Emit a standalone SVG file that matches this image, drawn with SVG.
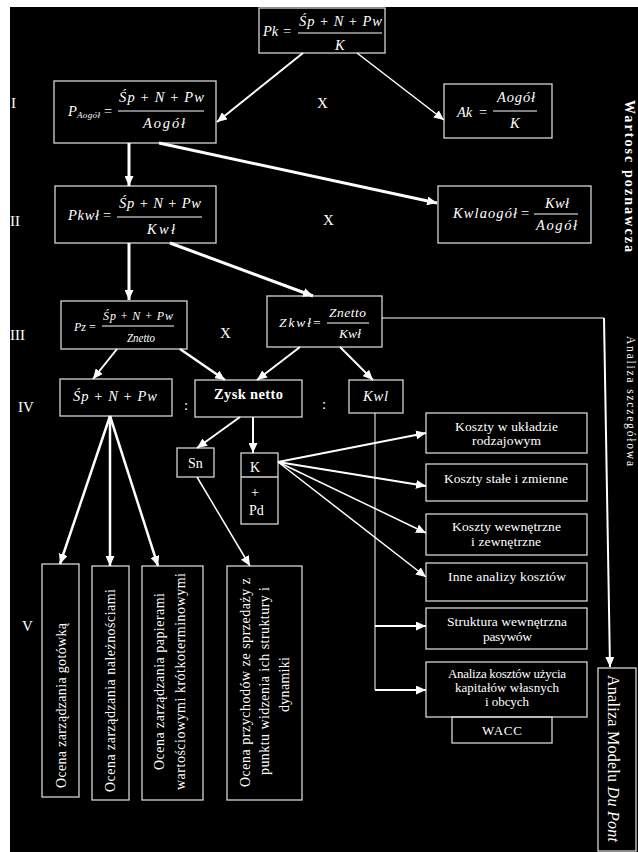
<svg xmlns="http://www.w3.org/2000/svg" width="638" height="852" viewBox="0 0 638 852">
<style>
.bx{fill:none;stroke:#d4d4d4;stroke-width:1.3}
.t{font-family:"Liberation Serif","Times New Roman",serif;fill:#fff}
.i{font-style:italic}
.b{font-weight:bold}
.fl{stroke:#fff;stroke-width:1}
.c{stroke:#fff;fill:none}
</style>
<defs>
<marker id="ah" markerUnits="userSpaceOnUse" markerWidth="10" markerHeight="9" refX="10" refY="4.5" orient="auto">
<path d="M0,0 L10,4.5 L0,9 z" fill="#fff"/>
</marker>
</defs>
<rect x="0" y="0" width="638" height="852" fill="#fff"/>
<rect x="10" y="7" width="628" height="845" fill="#000"/>

<g id="levels" class="t" font-size="15">
<text x="11" y="108">I</text>
<text x="10" y="226">II</text>
<text x="10" y="340">III</text>
<text x="18" y="412">IV</text>
<text x="22" y="631">V</text>
<text x="317" y="108">X</text>
<text x="323" y="225">X</text>
<text x="220" y="338">X</text>
<text x="184" y="410">:</text>
<text x="322" y="409">:</text>
</g>

<g id="side-labels" class="t">
<text class="b" font-size="14" transform="translate(625,100) rotate(90)" textLength="152" lengthAdjust="spacing">Wartosc poznawcza</text>
<text font-size="11.5" transform="translate(627,336) rotate(90)" textLength="130" lengthAdjust="spacing">Analiza szczegółowa</text>
</g>

<g id="n-pk">
<rect class="bx" x="259" y="8" width="126" height="45"/>
<text class="t i" x="263" y="36" font-size="14.5">Pk</text>
<text class="t" x="283" y="36" font-size="14.5">=</text>
<text class="t" x="299" y="26" font-size="14.5" textLength="83" lengthAdjust="spacing"><tspan class="i">Śp</tspan> + <tspan class="i">N</tspan> + <tspan class="i">Pw</tspan></text>
<line class="fl" x1="298" y1="33" x2="382" y2="33"/>
<text class="t i" x="335" y="50" font-size="14.5">K</text>
</g>

<g id="n-paogol">
<rect class="bx" x="54" y="81" width="162" height="62"/>
<text class="t i" x="68" y="116" font-size="14.5">P</text>
<text class="t i" x="77" y="118" font-size="9" textLength="23" lengthAdjust="spacing">Aogół</text>
<text class="t" x="104" y="116" font-size="14.5">=</text>
<text class="t" x="119" y="102" font-size="14.5" textLength="85" lengthAdjust="spacing"><tspan class="i">Śp</tspan> + <tspan class="i">N</tspan> + <tspan class="i">Pw</tspan></text>
<line class="fl" x1="118" y1="111" x2="204" y2="111"/>
<text class="t i" x="143" y="128" font-size="14.5" textLength="42" lengthAdjust="spacing">Aogół</text>
</g>

<g id="n-ak">
<rect class="bx" x="444" y="84" width="108" height="54"/>
<text class="t i" x="457" y="117" font-size="14.5">Ak</text>
<text class="t" x="479" y="117" font-size="14.5">=</text>
<text class="t i" x="497" y="102" font-size="14.5" textLength="38" lengthAdjust="spacing">Aogół</text>
<line class="fl" x1="493" y1="111" x2="537" y2="111"/>
<text class="t i" x="510" y="128" font-size="14.5">K</text>
</g>

<g id="n-pkwl">
<rect class="bx" x="55" y="186" width="161" height="57"/>
<text class="t i" x="68" y="220" font-size="14.5" textLength="31" lengthAdjust="spacing">Pkwł</text>
<text class="t" x="103" y="220" font-size="14.5">=</text>
<text class="t" x="119" y="208" font-size="14.5" textLength="82" lengthAdjust="spacing"><tspan class="i">Śp</tspan> + <tspan class="i">N</tspan> + <tspan class="i">Pw</tspan></text>
<line class="fl" x1="117" y1="217" x2="202" y2="217"/>
<text class="t i" x="147" y="234" font-size="14.5" textLength="28" lengthAdjust="spacing">Kwł</text>
</g>

<g id="n-kwlaogol">
<rect class="bx" x="438" y="186" width="153" height="57"/>
<text class="t i" x="453" y="218" font-size="14.5" textLength="64" lengthAdjust="spacing">Kwlaogół</text>
<text class="t" x="521" y="218" font-size="14.5">=</text>
<text class="t i" x="545" y="208" font-size="14.5" textLength="24" lengthAdjust="spacing">Kwł</text>
<line class="fl" x1="534" y1="214" x2="578" y2="214"/>
<text class="t i" x="536" y="230" font-size="14.5" textLength="41" lengthAdjust="spacing">Aogół</text>
</g>

<g id="n-pz">
<rect class="bx" x="61" y="301" width="126" height="48"/>
<text class="t i" x="74" y="331" font-size="12">Pz</text>
<text class="t" x="89" y="331" font-size="12">=</text>
<text class="t" x="103" y="320" font-size="12" textLength="70" lengthAdjust="spacing"><tspan class="i">Śp</tspan> + <tspan class="i">N</tspan> + <tspan class="i">Pw</tspan></text>
<line class="fl" x1="102" y1="326" x2="174" y2="326"/>
<text class="t i" x="127" y="342" font-size="12" textLength="28" lengthAdjust="spacingAndGlyphs">Znetto</text>
</g>

<g id="n-zkwl">
<rect class="bx" x="267" y="296" width="115" height="51"/>
<text class="t i" x="279" y="327" font-size="13.5" textLength="32" lengthAdjust="spacing">Zkwł</text>
<text class="t" x="313" y="327" font-size="13.5">=</text>
<text class="t i" x="329" y="317" font-size="13.5" textLength="37" lengthAdjust="spacing">Znetto</text>
<line class="fl" x1="327" y1="323" x2="369" y2="323"/>
<text class="t i" x="339" y="338" font-size="13.5" textLength="22" lengthAdjust="spacing">Kwł</text>
</g>

<g id="n-sp">
<rect class="bx" x="60" y="379" width="112" height="37"/>
<text class="t" x="73" y="401" font-size="14.5" textLength="84" lengthAdjust="spacing"><tspan class="i">Śp</tspan> + <tspan class="i">N</tspan> + <tspan class="i">Pw</tspan></text>
</g>

<g id="n-zysk">
<rect class="bx" x="195" y="380" width="107" height="37"/>
<text class="t b" x="214" y="399" font-size="14.5" textLength="69" lengthAdjust="spacing">Zysk netto</text>
</g>

<g id="n-kwl">
<rect class="bx" x="349" y="380" width="54" height="33"/>
<text class="t i" x="363" y="401" font-size="14.5" textLength="25" lengthAdjust="spacing">Kwl</text>
</g>

<g id="n-sn">
<rect class="bx" x="177" y="448" width="37" height="29"/>
<text class="t" x="188" y="468" font-size="14">Sn</text>
</g>

<g id="n-kpd">
<rect class="bx" x="241" y="453" width="37" height="71"/>
<line class="bx" x1="241" y1="477" x2="278" y2="477"/>
<text class="t" x="250" y="472" font-size="14">K</text>
<text class="t" x="251" y="497" font-size="14">+</text>
<text class="t" x="249" y="515" font-size="14">Pd</text>
</g>

<g id="n-koszty1">
<rect class="bx" x="426" y="413" width="161" height="40"/>
<text class="t" x="455" y="431" font-size="13.5" textLength="103" lengthAdjust="spacing">Koszty w układzie</text>
<text class="t" x="472" y="445" font-size="13.5" textLength="69" lengthAdjust="spacing">rodzajowym</text>
</g>
<g id="n-koszty2">
<rect class="bx" x="426" y="464" width="161" height="37"/>
<text class="t" x="444" y="483" font-size="13.5" textLength="124" lengthAdjust="spacing">Koszty stałe i zmienne</text>
</g>
<g id="n-koszty3">
<rect class="bx" x="426" y="514" width="161" height="41"/>
<text class="t" x="452" y="531" font-size="13.5" textLength="109" lengthAdjust="spacing">Koszty wewnętrzne</text>
<text class="t" x="471" y="546" font-size="13.5" textLength="70" lengthAdjust="spacing">i zewnętrzne</text>
</g>
<g id="n-koszty4">
<rect class="bx" x="426" y="563" width="161" height="38"/>
<text class="t" x="448" y="581" font-size="13.5" textLength="118" lengthAdjust="spacing">Inne analizy kosztów</text>
</g>
<g id="n-struktura">
<rect class="bx" x="426" y="608" width="161" height="41"/>
<text class="t" x="447" y="626" font-size="13.5" textLength="120" lengthAdjust="spacing">Struktura wewnętrzna</text>
<text class="t" x="483" y="641" font-size="13.5" textLength="49" lengthAdjust="spacing">pasywów</text>
</g>
<g id="n-wacc-analiza">
<rect class="bx" x="426" y="662" width="161" height="55"/>
<text class="t" x="448" y="678" font-size="13" textLength="118" lengthAdjust="spacing">Analiza kosztów użycia</text>
<text class="t" x="455" y="692" font-size="13" textLength="104" lengthAdjust="spacing">kapitałów własnych</text>
<text class="t" x="485" y="706" font-size="13" textLength="44" lengthAdjust="spacing">i obcych</text>
</g>
<g id="n-wacc">
<rect class="bx" x="452" y="717" width="100" height="26"/>
<text class="t" x="482" y="735" font-size="13" textLength="40" lengthAdjust="spacing">WACC</text>
</g>

<g id="n-dupont">
<rect class="bx" x="598" y="668" width="38" height="183"/>
<text class="t" font-size="16" transform="translate(608,675) rotate(90)" textLength="167" lengthAdjust="spacing">Analiza Modelu <tspan class="i">Du Pont</tspan></text>
</g>

<g id="n-v1">
<rect class="bx" x="42" y="564" width="37" height="233"/>
<text class="t" font-size="14" transform="translate(66,788) rotate(-90)" textLength="165" lengthAdjust="spacing">Ocena zarządzania gotówką</text>
</g>
<g id="n-v2">
<rect class="bx" x="92" y="566" width="37" height="234"/>
<text class="t" font-size="14" transform="translate(115,792) rotate(-90)" textLength="203" lengthAdjust="spacing">Ocena zarządzania należnościami</text>
</g>
<g id="n-v3">
<rect class="bx" x="142" y="566" width="61" height="234"/>
<text class="t" font-size="14" transform="translate(164,770) rotate(-90)" textLength="177" lengthAdjust="spacing">Ocena zarządzania papierami</text>
<text class="t" font-size="14" transform="translate(185,790) rotate(-90)" textLength="217" lengthAdjust="spacing">wartościowymi krótkoterminowymi</text>
</g>
<g id="n-v4">
<rect class="bx" x="227" y="566" width="75" height="234"/>
<text class="t" font-size="14" transform="translate(250,787) rotate(-90)" textLength="209" lengthAdjust="spacing">Ocena przychodów ze sprzedaży z</text>
<text class="t" font-size="14" transform="translate(269,775) rotate(-90)" textLength="188" lengthAdjust="spacing">punktu widzenia ich struktury i</text>
<text class="t" font-size="14" transform="translate(289,712) rotate(-90)" textLength="55" lengthAdjust="spacing">dynamiki</text>
</g>

<g id="connectors" class="c">
<line x1="303" y1="53" x2="217" y2="122" stroke-width="2" marker-end="url(#ah)"/>
<line x1="357" y1="53" x2="444" y2="120" stroke-width="1.5" marker-end="url(#ah)"/>
<line x1="129" y1="143" x2="129" y2="186" stroke-width="3" marker-end="url(#ah)"/>
<line x1="159" y1="143" x2="437" y2="203" stroke-width="3" marker-end="url(#ah)"/>
<line x1="129" y1="243" x2="129" y2="300" stroke-width="3" marker-end="url(#ah)"/>
<line x1="170" y1="243" x2="313" y2="296" stroke-width="3" marker-end="url(#ah)"/>
<polyline points="382,318 604,318" stroke-width="1.2"/>
<line x1="604" y1="318" x2="610" y2="667" stroke-width="2" marker-end="url(#ah)"/>
<line x1="117" y1="349" x2="93" y2="379" stroke-width="2" marker-end="url(#ah)"/>
<line x1="180" y1="349" x2="225" y2="380" stroke-width="2.5" marker-end="url(#ah)"/>
<line x1="300" y1="347" x2="257" y2="380" stroke-width="2" marker-end="url(#ah)"/>
<line x1="340" y1="347" x2="373" y2="380" stroke-width="2" marker-end="url(#ah)"/>
<line x1="240" y1="417" x2="197" y2="448" stroke-width="2" marker-end="url(#ah)"/>
<line x1="253" y1="417" x2="253" y2="453" stroke-width="2" marker-end="url(#ah)"/>
<line x1="110" y1="416" x2="60" y2="564" stroke-width="2.5" marker-end="url(#ah)"/>
<line x1="110" y1="416" x2="110" y2="566" stroke-width="2.5" marker-end="url(#ah)"/>
<line x1="110" y1="416" x2="158" y2="566" stroke-width="2.5" marker-end="url(#ah)"/>
<line x1="197" y1="477" x2="250" y2="566" stroke-width="1.5" marker-end="url(#ah)"/>
<line x1="278" y1="462" x2="426" y2="433" stroke-width="2" marker-end="url(#ah)"/>
<line x1="278" y1="462" x2="426" y2="486" stroke-width="2" marker-end="url(#ah)"/>
<line x1="278" y1="462" x2="426" y2="533" stroke-width="1.5" marker-end="url(#ah)"/>
<line x1="278" y1="462" x2="426" y2="577" stroke-width="1.5" marker-end="url(#ah)"/>
<line x1="375" y1="413" x2="375" y2="690" stroke-width="1"/>
<line x1="375" y1="626" x2="426" y2="626" stroke-width="2" marker-end="url(#ah)"/>
<line x1="375" y1="690" x2="426" y2="690" stroke-width="2" marker-end="url(#ah)"/>
</g>
</svg>
